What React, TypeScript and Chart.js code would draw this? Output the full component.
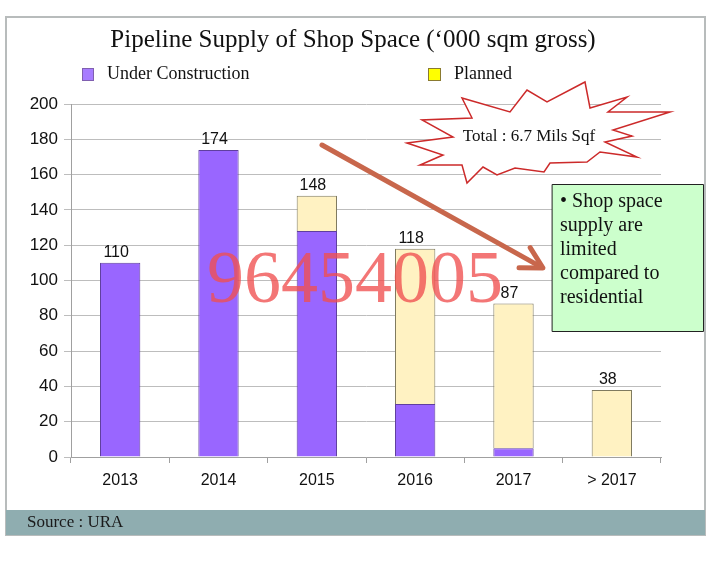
import React, { useEffect, useRef } from "react";
import { Chart, registerables } from "chart.js";

Chart.register(...registerables);

const categories = ["2013", "2014", "2015", "2016", "2017", "> 2017"];
const underConstruction = [110, 174, 128, 30, 5, null];
const planned = [null, null, 20, 88, 82, 38];
const totals = [110, 174, 148, 118, 87, 38];
const titleText = "Pipeline Supply of Shop Space (\u2018000 sqm gross)";
const legendLabels = ["Under Construction", "Planned"];
const noteLines = ["\u2022 Shop space", "supply are", "limited", "compared to", "residential"];
const burstText = "Total : 6.7 Mils Sqf";
const sourceText = "Source : URA";
const watermark = "96454005";

const SERIF = '"Liberation Serif", "DejaVu Serif", serif';
const SANS = '"Liberation Sans", Arial, sans-serif';

const decor = {
  id: "decor",
  beforeDraw(chart: any) {
    const ctx = chart.ctx;
    ctx.save();
    ctx.fillStyle = "#ffffff";
    ctx.fillRect(0, 0, chart.width, chart.height);
    ctx.strokeStyle = "#b8bcbc";
    ctx.lineWidth = 2;
    ctx.strokeRect(6, 17, 699, 518);
    ctx.fillStyle = "#8fadb0";
    ctx.fillRect(6, 510, 699, 25);
    ctx.fillStyle = "#1a1a1a";
    ctx.font = `17px ${SERIF}`;
    ctx.textBaseline = "middle";
    ctx.textAlign = "left";
    ctx.fillText(sourceText, 27, 523);
    ctx.fillStyle = "#111";
    ctx.font = `25px ${SERIF}`;
    ctx.textAlign = "center";
    ctx.fillText(titleText, 353, 40);
    ctx.font = `18px ${SERIF}`;
    ctx.textAlign = "left";
    ctx.fillStyle = "#a77cff";
    ctx.strokeStyle = "#8060b0";
    ctx.lineWidth = 1;
    ctx.fillRect(82, 68, 11, 12);
    ctx.strokeRect(82.5, 68.5, 11, 12);
    ctx.fillStyle = "#111";
    ctx.fillText(legendLabels[0], 107, 74);
    ctx.fillStyle = "#ffff00";
    ctx.strokeStyle = "#8a7a30";
    ctx.fillRect(428, 68, 12, 12);
    ctx.strokeRect(428.5, 68.5, 12, 12);
    ctx.fillStyle = "#111";
    ctx.fillText(legendLabels[1], 454, 74);
    ctx.restore();
  },
  afterDatasetsDraw(chart: any) {
    const ctx = chart.ctx;
    const xs = chart.scales.x;
    const ys = chart.scales.y;
    ctx.save();
    ctx.fillStyle = "#111";
    ctx.font = `16px ${SANS}`;
    ctx.textAlign = "center";
    ctx.textBaseline = "bottom";
    totals.forEach((t, i) => {
      ctx.fillText(String(t), xs.getPixelForValue(i) - 4, ys.getPixelForValue(t) - 2);
    });

    // starburst
    const pts: [number, number][] = [
      [407, 143], [453, 137], [422, 120], [472, 118], [462, 98], [510, 112], [527, 90],
      [547, 102], [585, 82], [590, 108], [627, 97], [608, 112], [670, 112], [613, 130],
      [632, 136], [605, 142], [637, 157], [600, 152], [587, 162], [550, 163], [544, 172],
      [515, 168], [497, 175], [483, 167], [467, 183], [462, 165], [420, 165], [443, 155]
    ];
    ctx.beginPath();
    pts.forEach(([x, y], i) => (i ? ctx.lineTo(x, y) : ctx.moveTo(x, y)));
    ctx.closePath();
    ctx.fillStyle = "#ffffff";
    ctx.fill();
    ctx.strokeStyle = "#cc2a2a";
    ctx.lineWidth = 1.5;
    ctx.stroke();
    ctx.fillStyle = "#111";
    ctx.font = `17px ${SERIF}`;
    ctx.textBaseline = "middle";
    ctx.fillText(burstText, 529, 137);

    // arrow
    const x1 = 322, y1 = 145, x2 = 543, y2 = 268;
    const ang = Math.atan2(y2 - y1, x2 - x1);
    ctx.strokeStyle = "#c8674c";
    ctx.lineWidth = 5;
    ctx.lineCap = "round";
    ctx.beginPath();
    ctx.moveTo(x1, y1);
    ctx.lineTo(x2 - 6 * Math.cos(ang), y2 - 6 * Math.sin(ang));
    ctx.stroke();
    ctx.lineJoin = "round";
    ctx.beginPath();
    const hl = 24;
    ctx.moveTo(x2 - hl * Math.cos(ang - 0.5), y2 - hl * Math.sin(ang - 0.5));
    ctx.lineTo(x2, y2);
    ctx.lineTo(x2 - hl * Math.cos(ang + 0.5), y2 - hl * Math.sin(ang + 0.5));
    ctx.stroke();

    // note box
    ctx.fillStyle = "#ccffcc";
    ctx.fillRect(552, 184, 151, 147);
    ctx.strokeStyle = "#222";
    ctx.lineWidth = 1;
    ctx.strokeRect(552.5, 184.5, 151, 147);
    ctx.fillStyle = "#111";
    ctx.font = `20px ${SERIF}`;
    ctx.textAlign = "left";
    ctx.textBaseline = "middle";
    noteLines.forEach((l, i) => ctx.fillText(l, 560, 202 + i * 24));

    // watermark
    ctx.fillStyle = "rgba(240, 80, 80, 0.78)";
    ctx.font = `74px ${SERIF}`;
    ctx.textAlign = "left";
    ctx.textBaseline = "alphabetic";
    ctx.fillText(watermark, 207, 302);
    ctx.restore();
  }
};

export default function App() {
  const ref = useRef<HTMLCanvasElement>(null);
  useEffect(() => {
    document.body.style.margin = "0";
    const chart = new Chart(ref.current!, {
      type: "bar",
      data: {
        labels: categories,
        datasets: [
          {
            label: legendLabels[0],
            data: underConstruction,
            backgroundColor: "#9966ff",
            borderColor: "#5f3f9f",
            borderWidth: 1,
            barPercentage: 0.41,
            categoryPercentage: 1
          },
          {
            label: legendLabels[1],
            data: planned,
            backgroundColor: "#fff2c2",
            borderColor: "#7f7a5f",
            borderWidth: 1,
            barPercentage: 0.41,
            categoryPercentage: 1
          }
        ]
      },
      options: {
        responsive: false,
        animation: false,
        layout: { padding: { left: 21, right: 51, top: 104, bottom: 68 } },
        plugins: { legend: { display: false }, title: { display: false }, tooltip: { enabled: false } },
        scales: {
          x: {
            stacked: true,
            grid: { display: true, drawOnChartArea: false, offset: true, tickLength: 6, color: "#a0a0a0" },
            border: { display: true, color: "#a0a0a0" },
            ticks: { color: "#111", font: { family: SANS, size: 16 }, padding: 8, maxRotation: 0 },
            afterFit: (s: any) => { s.height = 40; }
          },
          y: {
            stacked: true,
            min: 0,
            max: 200,
            grid: { color: "#bdbdbd", tickLength: 7 },
            border: { display: true, color: "#a0a0a0" },
            ticks: { stepSize: 20, color: "#111", font: { family: SANS, size: 17 }, padding: 6 },
            afterFit: (s: any) => { s.width = 50; }
          }
        }
      },
      plugins: [decor]
    });
    return () => chart.destroy();
  }, []);
  return <canvas ref={ref} width={712} height={565} style={{ display: "block" }} />;
}
